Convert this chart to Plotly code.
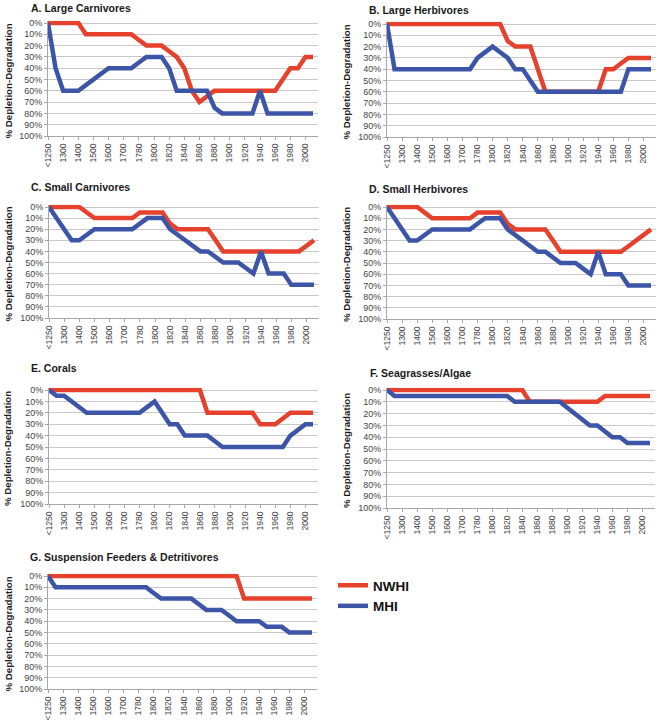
import plotly.graph_objects as go

W, H = 661, 721

categories = ["<1250", "1250", "1300", "1350", "1400", "1450", "1500", "1550", "1600", "1650",
              "1700", "1750", "1780", "1790", "1800", "1810", "1820", "1830", "1840", "1850",
              "1860", "1870", "1880", "1890", "1900", "1910", "1920", "1930", "1940", "1950",
              "1960", "1970", "1980", "1990", "2000", "2010"]
tick_labels = ["<1250", "1300", "1400", "1500", "1600", "1700", "1780", "1800", "1820", "1840",
               "1860", "1880", "1900", "1920", "1940", "1960", "1980", "2000"]

titles = ["A. Large Carnivores", "B. Large Herbivores", "C. Small Carnivores",
          "D. Small Herbivores", "E. Corals", "F. Seagrasses/Algae",
          "G. Suspension Feeders & Detritivores"]

nwhi_A = [0, 0, 0, 0, 0, 10, 10, 10, 10, 10, 10, 10, 15, 20, 20, 20, 25, 30, 40, 60, 70, 65,
          60, 60, 60, 60, 60, 60, 60, 60, 60, 50, 40, 40, 30, 30]
mhi_A = [0, 40, 60, 60, 60, 55, 50, 45, 40, 40, 40, 40, 35, 30, 30, 30, 40, 60, 60, 60, 60, 60,
         75, 80, 80, 80, 80, 80, 60, 80, 80, 80, 80, 80, 80, 80]
nwhi_B = [0, 0, 0, 0, 0, 0, 0, 0, 0, 0, 0, 0, 0, 0, 0, 0, 15, 20, 20, 20, 40, 60,
          60, 60, 60, 60, 60, 60, 60, 40, 40, 35, 30, 30, 30, 30]
mhi_B = [0, 40, 40, 40, 40, 40, 40, 40, 40, 40, 40, 40, 30, 25, 20, 25, 30, 40, 40, 50, 60, 60,
         60, 60, 60, 60, 60, 60, 60, 60, 60, 60, 40, 40, 40, 40]
nwhi_C = [0, 0, 0, 0, 0, 5, 10, 10, 10, 10, 10, 10, 5, 5, 5, 5, 15, 20, 20, 20, 20, 20,
          30, 40, 40, 40, 40, 40, 40, 40, 40, 40, 40, 40, 35, 30]
mhi_C = [0, 10, 20, 30, 30, 25, 20, 20, 20, 20, 20, 20, 15, 10, 10, 10, 20, 25, 30, 35, 40, 40,
         45, 50, 50, 50, 55, 60, 40, 60, 60, 60, 70, 70, 70, 70]
nwhi_D = [0, 0, 0, 0, 0, 5, 10, 10, 10, 10, 10, 10, 5, 5, 5, 5, 15, 20, 20, 20, 20, 20,
          30, 40, 40, 40, 40, 40, 40, 40, 40, 40, 35, 30, 25, 20]
mhi_D = [0, 10, 20, 30, 30, 25, 20, 20, 20, 20, 20, 20, 15, 10, 10, 10, 20, 25, 30, 35, 40, 40,
         45, 50, 50, 50, 55, 60, 40, 60, 60, 60, 70, 70, 70, 70]
nwhi_E = [0, 0, 0, 0, 0, 0, 0, 0, 0, 0, 0, 0, 0, 0, 0, 0, 0, 0, 0, 0, 0, 20,
          20, 20, 20, 20, 20, 20, 30, 30, 30, 25, 20, 20, 20, 20]
mhi_E = [0, 5, 5, 10, 15, 20, 20, 20, 20, 20, 20, 20, 20, 15, 10, 20, 30, 30, 40, 40, 40, 40,
         45, 50, 50, 50, 50, 50, 50, 50, 50, 50, 40, 35, 30, 30]
nwhi_F = [0, 0, 0, 0, 0, 0, 0, 0, 0, 0, 0, 0, 0, 0, 0, 0, 0, 0, 0, 10, 10, 10,
          10, 10, 10, 10, 10, 10, 10, 5, 5, 5, 5, 5, 5, 5]
mhi_F = [0, 5, 5, 5, 5, 5, 5, 5, 5, 5, 5, 5, 5, 5, 5, 5, 5, 10, 10, 10, 10, 10,
         10, 10, 15, 20, 25, 30, 30, 35, 40, 40, 45, 45, 45, 45]
nwhi_G = [0, 0, 0, 0, 0, 0, 0, 0, 0, 0, 0, 0, 0, 0, 0, 0, 0, 0, 0, 0, 0, 0,
          0, 0, 0, 0, 20, 20, 20, 20, 20, 20, 20, 20, 20, 20]
mhi_G = [0, 10, 10, 10, 10, 10, 10, 10, 10, 10, 10, 10, 10, 10, 15, 20, 20, 20, 20, 20, 25, 30,
         30, 30, 35, 40, 40, 40, 40, 45, 45, 45, 50, 50, 50, 50]

nwhi_series = [nwhi_A, nwhi_B, nwhi_C, nwhi_D, nwhi_E, nwhi_F, nwhi_G]
mhi_series = [mhi_A, mhi_B, mhi_C, mhi_D, mhi_E, mhi_F, mhi_G]

RED = "#E5412D"
BLUE = "#3D55A6"
FONT = "Liberation Sans, Arial, sans-serif"

# panel pixel boxes: x of first category, x of last category, y of 0%, y of 100%, title pos
panels = [
    dict(x0=48, x35=313, y0=23, y100=136, tx=29, ty=8),
    dict(x0=387, x35=651, y0=24, y100=137, tx=367, ty=10),
    dict(x0=49, x35=314, y0=207, y100=318, tx=29, ty=187),
    dict(x0=387, x35=651, y0=207, y100=319, tx=367, ty=189),
    dict(x0=49, x35=313, y0=390, y100=504, tx=29, ty=368),
    dict(x0=387, x35=650, y0=390, y100=508, tx=368, ty=373),
    dict(x0=48, x35=312, y0=576, y100=689, tx=28, ty=557),
]

x_idx = list(range(len(categories)))
tickvals = [x_idx[categories.index(t)] for t in tick_labels]

fig = go.Figure()
layout = dict(
    width=W, height=H,
    margin=dict(l=0, r=0, t=0, b=0, autoexpand=False),
    paper_bgcolor="white", plot_bgcolor="white",
    showlegend=True,
    legend=dict(x=333 / W, y=1 - 570 / H, xanchor="left", yanchor="top",
                font=dict(family=FONT, size=13.5, color="#111", weight="bold"),
                itemwidth=30, tracegroupgap=0, bgcolor="rgba(0,0,0,0)"),
    annotations=[],
)

XMAX = 35.7
for k, p in enumerate(panels):
    n = "" if k == 0 else str(k + 1)
    pxi = (p["x35"] - p["x0"]) / 35.0
    dx = [p["x0"] / W, (p["x0"] + XMAX * pxi) / W]
    ppp = (p["y100"] - p["y0"]) / 100.0
    top = p["y0"] - 2 * ppp
    dy = [1 - p["y100"] / H, 1 - top / H]
    layout["xaxis" + n] = dict(
        domain=dx, range=[0, XMAX], anchor="y" + n, automargin=False,
        tickmode="array", tickvals=tickvals, ticktext=tick_labels, tickangle=-90,
        ticks="outside", ticklen=3, tickcolor="#a6a6a6",
        showline=True, linecolor="#a6a6a6", linewidth=1,
        showgrid=False, zeroline=False,
        tickfont=dict(family=FONT, size=8.6, color="#444"),
    )
    layout["yaxis" + n] = dict(
        domain=dy, range=[100, -2], anchor="x" + n, automargin=False,
        tickmode="array", tickvals=list(range(0, 101, 10)),
        ticktext=[f"{v}%" for v in range(0, 101, 10)],
        ticks="outside", ticklen=3, tickcolor="#a6a6a6",
        showline=True, linecolor="#a6a6a6", linewidth=1,
        showgrid=True, gridcolor="#c8c8c8", gridwidth=1, zeroline=False,
        tickfont=dict(family=FONT, size=9, color="#444"),
    )
    fig.add_trace(go.Scatter(x=x_idx, y=nwhi_series[k], mode="lines", name="NWHI",
                             line=dict(color=RED, width=4.5), legendgroup="NWHI",
                             showlegend=(k == 0), xaxis="x" + n, yaxis="y" + n))
    fig.add_trace(go.Scatter(x=x_idx, y=mhi_series[k], mode="lines", name="MHI",
                             line=dict(color=BLUE, width=4.5), legendgroup="MHI",
                             showlegend=(k == 0), xaxis="x" + n, yaxis="y" + n))
    layout["annotations"].append(dict(
        text=titles[k], x=p["tx"] / W, y=1 - p["ty"] / H, xref="paper", yref="paper",
        xanchor="left", yanchor="middle", showarrow=False,
        font=dict(family=FONT, size=10.5, color="#1a1a1a", weight="bold")))
    ylab_x = 8 if p["x0"] < 200 else 8 + 338
    layout["annotations"].append(dict(
        text="% Depletion-Degradation", x=ylab_x / W, y=1 - ((p["y0"] + p["y100"]) / 2 + 2) / H,
        xref="paper", yref="paper", xanchor="center", yanchor="middle", showarrow=False,
        textangle=-90, font=dict(family=FONT, size=9.7, color="#1a1a1a", weight="bold")))

fig.update_layout(**layout)
fig.write_html("out.html", config={"displayModeBar": False},
               post_script="document.body.style.margin='0';document.body.style.overflow='hidden';")
